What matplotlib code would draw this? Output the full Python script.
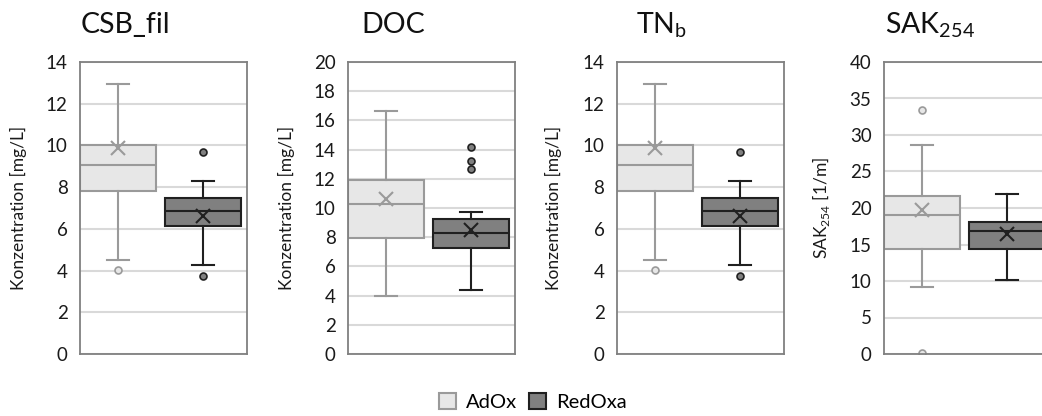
import matplotlib
matplotlib.use("Agg")
import matplotlib.pyplot as plt
from matplotlib.patches import Patch

plt.rcParams['font.family'] = ['Lato', 'DejaVu Sans']
plt.rcParams['mathtext.fontset'] = 'custom'
plt.rcParams['mathtext.rm'] = 'Lato'

# stats per box: [whislo, q1, med, q3, whishi, mean]
csb_adox = [4.5, 7.8, 9.06, 10.04, 12.95, 9.9]
csb_adox_fliers = [4.05]
csb_redoxa = [4.25, 6.12, 6.84, 7.48, 8.3, 6.62]
csb_redoxa_fliers = [9.7, 3.75]

doc_adox = [4.0, 7.95, 10.3, 11.9, 16.65, 10.65]
doc_adox_fliers = []
doc_redoxa = [4.4, 7.24, 8.26, 9.22, 9.75, 8.52]
doc_redoxa_fliers = [14.2, 13.25, 12.65]

tnb_adox = [4.5, 7.8, 9.06, 10.04, 12.95, 9.9]
tnb_adox_fliers = [4.05]
tnb_redoxa = [4.25, 6.12, 6.84, 7.48, 8.3, 6.62]
tnb_redoxa_fliers = [9.7, 3.75]

sak_adox = [9.2, 14.4, 19.0, 21.6, 28.6, 19.7]
sak_adox_fliers = [33.4, 0.2]
sak_redoxa = [10.1, 14.4, 16.9, 18.1, 21.9, 16.4]
sak_redoxa_fliers = []

titles = ['CSB_fil', 'DOC', r'TN$_\mathregular{b}$', r'SAK$_\mathregular{254}$']
ylabels = ['Konzentration [mg/L]', 'Konzentration [mg/L]', 'Konzentration [mg/L]',
           r'SAK$_\mathregular{254}$ [1/m]']
ymax = [14, 20, 14, 40]
ystep = [2, 2, 2, 5]
series = ['AdOx', 'RedOxa']

panels = [(csb_adox, csb_adox_fliers, csb_redoxa, csb_redoxa_fliers),
          (doc_adox, doc_adox_fliers, doc_redoxa, doc_redoxa_fliers),
          (tnb_adox, tnb_adox_fliers, tnb_redoxa, tnb_redoxa_fliers),
          (sak_adox, sak_adox_fliers, sak_redoxa, sak_redoxa_fliers)]


def mkstats(s, fl):
    return dict(whislo=s[0], q1=s[1], med=s[2], q3=s[3], whishi=s[4], mean=s[5], fliers=fl)


W, H = 1042, 416
fig = plt.figure(figsize=(W / 100, H / 100), dpi=100)

lefts = [80, 348, 617, 884]
ylab_x = [27, 295, 562, 832]   # right edge of rotated label, px
title_x = [125, 393, 662, 930]
ax_w = 167
top, bottom = 62, 354

light_fill, light_edge = '#e7e7e7', '#9a9a9a'
dark_fill, dark_edge = '#808080', '#202020'

for i, (a, af, r, rf) in enumerate(panels):
    ax = fig.add_axes([lefts[i] / W, (H - bottom) / H, ax_w / W, (bottom - top) / H])
    ax.set_axisbelow(True)
    ax.grid(axis='y', color='#d9d9d9', linewidth=1.5)
    for (st, fl, pos, fc, ec, ffc) in [(a, af, 1, light_fill, light_edge, light_fill),
                                       (r, rf, 2, dark_fill, dark_edge, dark_fill)]:
        ax.bxp([mkstats(st, fl)], positions=[pos], widths=0.89, capwidths=0.25,
               patch_artist=True, showmeans=True,
               boxprops=dict(facecolor=fc, edgecolor=ec, linewidth=1.5),
               medianprops=dict(color=ec, linewidth=1.5),
               whiskerprops=dict(color=ec, linewidth=1.5),
               capprops=dict(color=ec, linewidth=1.5),
               meanprops=dict(marker='x', markeredgecolor=ec, markersize=10,
                              markeredgewidth=1.5, linestyle='none'),
               flierprops=dict(marker='o', markerfacecolor=ffc, markeredgecolor=ec,
                               markersize=5, markeredgewidth=1.2))
    ax.set_xlim(0.553, 2.518)
    ax.set_ylim(0, ymax[i])
    ax.set_yticks(range(0, ymax[i] + 1, ystep[i]))
    ax.set_xticks([])
    ax.tick_params(axis='y', length=0, pad=9, labelsize=13.5, labelcolor='#1a1a1a')
    for sp in ax.spines.values():
        sp.set_color('#808080')
        sp.set_linewidth(1.3)
    ax.set_ylabel(ylabels[i], fontsize=12.5, color='#1a1a1a')
    ax.yaxis.set_label_coords((ylab_x[i] - lefts[i]) / ax_w, 0.5)
    fig.text(title_x[i] / W, (H - 33) / H, titles[i], fontsize=20.5, ha='center',
             va='baseline', color='#111111')

handles = [Patch(facecolor=light_fill, edgecolor=light_edge, linewidth=1.5),
           Patch(facecolor=dark_fill, edgecolor=dark_edge, linewidth=1.5)]
fig.legend(handles, series, loc='center', bbox_to_anchor=(533 / W, 14 / H), ncol=2,
           frameon=False, fontsize=14.5, handlelength=0.85, handleheight=0.85,
           handletextpad=0.5, columnspacing=0.6)

fig.savefig('out.png', dpi=100)
